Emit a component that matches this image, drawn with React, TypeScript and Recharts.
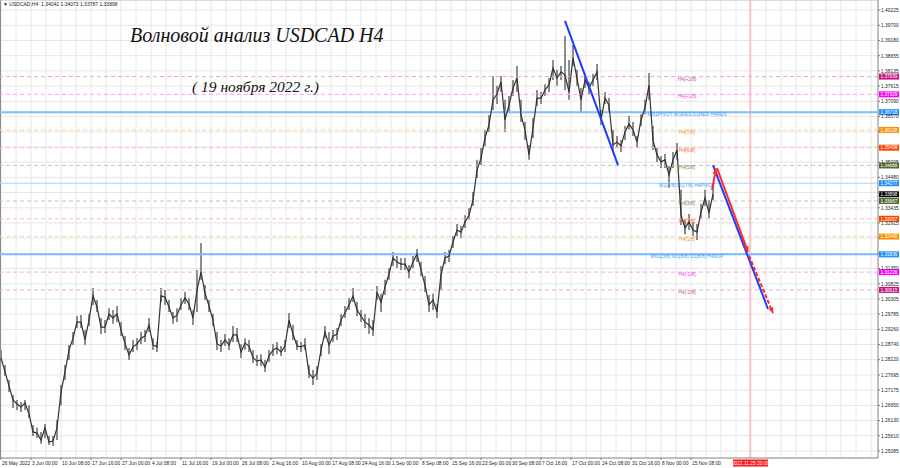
import React from "react";
import { ComposedChart, Line, Bar, XAxis, YAxis, CartesianGrid, ReferenceLine } from "recharts";

// H4 bars, sampled every STEP bars (1 bar ~ 1px on the original screen)
const STEP = 4;
const FIRST_BAR = 1;

const closes = [
  1.2828, 1.2780, 1.2732, 1.2684, 1.2670, 1.2660, 1.2673, 1.2636, 1.2574, 1.2570,
  1.2546, 1.2588, 1.2539, 1.2543, 1.2588, 1.2711, 1.2780, 1.2855, 1.2896, 1.2951,
  1.2951, 1.2890, 1.2958, 1.3041, 1.3003, 1.2934, 1.2934, 1.2979, 1.2965, 1.2979,
  1.2924, 1.2879, 1.2838, 1.2866, 1.2876, 1.2896, 1.2903, 1.2941, 1.2872, 1.2866,
  1.3041, 1.3037, 1.3003, 1.2965, 1.2975, 1.3010, 1.3034, 1.3013, 1.2965, 1.3061,
  1.3123, 1.3051, 1.3006, 1.2958, 1.2876, 1.2869, 1.2890, 1.2872, 1.2907, 1.2907,
  1.2848, 1.2879, 1.2869, 1.2828, 1.2817, 1.2821, 1.2797, 1.2835, 1.2855, 1.2862,
  1.2848, 1.2869, 1.2958, 1.2910, 1.2869, 1.2866, 1.2872, 1.2776, 1.2759, 1.2776,
  1.2855, 1.2917, 1.2872, 1.2903, 1.2910, 1.2958, 1.2982, 1.3010, 1.3041, 1.2993,
  1.2972, 1.2951, 1.2941, 1.2924, 1.3054, 1.3020, 1.3071, 1.3116, 1.3171, 1.3157,
  1.3150, 1.3150, 1.3123, 1.3157, 1.3185, 1.3130, 1.3078, 1.3010, 1.3027, 1.2986,
  1.3113, 1.3171, 1.3178, 1.3226, 1.3267, 1.3260, 1.3295, 1.3318, 1.3370, 1.3473,
  1.3514, 1.3583, 1.3628, 1.3714, 1.3734, 1.3776, 1.3645, 1.3696, 1.3755, 1.3789,
  1.3662, 1.3611, 1.3525, 1.3617, 1.3720, 1.3720, 1.3748, 1.3765, 1.3823, 1.3789,
  1.3810, 1.3799, 1.3741, 1.3858, 1.3789, 1.3714, 1.3782, 1.3755, 1.3782, 1.3810,
  1.3645, 1.3720, 1.3696, 1.3559, 1.3569, 1.3556, 1.3604, 1.3631, 1.3611, 1.3569,
  1.3645, 1.3686, 1.3765, 1.3576, 1.3525, 1.3501, 1.3508, 1.3456, 1.3508, 1.3542,
  1.3319, 1.3274, 1.3295, 1.3267, 1.3260, 1.3329, 1.3377, 1.3326, 1.3390,
];

const highs = [
  1.2855, 1.2804, 1.2752, 1.2701, 1.2684, 1.2677, 1.2684, 1.2666, 1.2598, 1.2588,
  1.2574, 1.2601, 1.2560, 1.2560, 1.2615, 1.2735, 1.2804, 1.2872, 1.2917, 1.2972,
  1.2975, 1.2924, 1.2979, 1.3068, 1.3027, 1.2965, 1.2958, 1.2999, 1.2993, 1.3006,
  1.2951, 1.2903, 1.2862, 1.2890, 1.2896, 1.2917, 1.2924, 1.2965, 1.2896, 1.2883,
  1.3068, 1.3061, 1.3027, 1.2986, 1.2999, 1.3034, 1.3054, 1.3034, 1.2993, 1.3130,
  1.3223, 1.3078, 1.3027, 1.2979, 1.2917, 1.2890, 1.2910, 1.2896, 1.2938, 1.2931,
  1.2876, 1.2896, 1.2890, 1.2855, 1.2838, 1.2841, 1.2821, 1.2855, 1.2876, 1.2883,
  1.2869, 1.2890, 1.2982, 1.2941, 1.2890, 1.2883, 1.2896, 1.2804, 1.2787, 1.2800,
  1.2876, 1.2938, 1.2917, 1.2924, 1.2931, 1.2979, 1.3006, 1.3034, 1.3068, 1.3020,
  1.2993, 1.2979, 1.2965, 1.2958, 1.3075, 1.3048, 1.3096, 1.3137, 1.3192, 1.3178,
  1.3171, 1.3171, 1.3147, 1.3178, 1.3202, 1.3157, 1.3109, 1.3044, 1.3048, 1.3013,
  1.3144, 1.3192, 1.3199, 1.3247, 1.3288, 1.3281, 1.3318, 1.3343, 1.3398, 1.3508,
  1.3549, 1.3611, 1.3662, 1.3796, 1.3762, 1.3796, 1.3714, 1.3727, 1.3782, 1.3830,
  1.3714, 1.3638, 1.3559, 1.3652, 1.3748, 1.3741, 1.3768, 1.3789, 1.3851, 1.3817,
  1.3830, 1.3933, 1.3851, 1.3902, 1.3817, 1.3755, 1.3803, 1.3775, 1.3803, 1.3837,
  1.3679, 1.3741, 1.3720, 1.3611, 1.3590, 1.3576, 1.3624, 1.3659, 1.3638, 1.3590,
  1.3665, 1.3714, 1.3806, 1.3624, 1.3549, 1.3521, 1.3528, 1.3487, 1.3535, 1.3566,
  1.3405, 1.3302, 1.3322, 1.3295, 1.3288, 1.3357, 1.3405, 1.3370, 1.3425,
];

const lows = [
  1.2814, 1.2766, 1.2711, 1.2656, 1.2649, 1.2642, 1.2649, 1.2622, 1.2560, 1.2553,
  1.2533, 1.2553, 1.2529, 1.2526, 1.2546, 1.2666, 1.2752, 1.2821, 1.2872, 1.2931,
  1.2931, 1.2872, 1.2938, 1.3010, 1.2986, 1.2910, 1.2914, 1.2958, 1.2945, 1.2951,
  1.2903, 1.2855, 1.2821, 1.2848, 1.2855, 1.2876, 1.2883, 1.2917, 1.2855, 1.2848,
  1.3020, 1.3010, 1.2986, 1.2945, 1.2951, 1.2993, 1.3013, 1.2993, 1.2941, 1.2986,
  1.3096, 1.3027, 1.2986, 1.2938, 1.2855, 1.2848, 1.2869, 1.2855, 1.2883, 1.2883,
  1.2828, 1.2855, 1.2848, 1.2811, 1.2800, 1.2800, 1.2780, 1.2814, 1.2835, 1.2841,
  1.2835, 1.2848, 1.2931, 1.2890, 1.2855, 1.2848, 1.2855, 1.2759, 1.2735, 1.2752,
  1.2835, 1.2896, 1.2841, 1.2883, 1.2890, 1.2938, 1.2965, 1.2993, 1.3020, 1.2972,
  1.2951, 1.2931, 1.2910, 1.2903, 1.3027, 1.2986, 1.3044, 1.3096, 1.3144, 1.3137,
  1.3130, 1.3130, 1.3102, 1.3137, 1.3157, 1.3109, 1.3054, 1.2986, 1.2993, 1.2965,
  1.3061, 1.3150, 1.3157, 1.3205, 1.3247, 1.3240, 1.3274, 1.3302, 1.3350, 1.3446,
  1.3490, 1.3556, 1.3604, 1.3679, 1.3700, 1.3741, 1.3604, 1.3672, 1.3727, 1.3741,
  1.3638, 1.3576, 1.3508, 1.3583, 1.3693, 1.3700, 1.3727, 1.3741, 1.3782, 1.3762,
  1.3782, 1.3748, 1.3714, 1.3830, 1.3762, 1.3672, 1.3755, 1.3734, 1.3762, 1.3782,
  1.3628, 1.3700, 1.3672, 1.3535, 1.3549, 1.3535, 1.3576, 1.3611, 1.3590, 1.3549,
  1.3624, 1.3665, 1.3714, 1.3542, 1.3501, 1.3480, 1.3480, 1.3412, 1.3480, 1.3508,
  1.3284, 1.3253, 1.3267, 1.3247, 1.3233, 1.3308, 1.3350, 1.3308, 1.3370,
];

const yTicks = [
  1.40225, 1.397, 1.3918, 1.38655, 1.38135, 1.37615, 1.3709, 1.3657, 1.36045, 1.35525,
  1.35005, 1.3448, 1.3396, 1.33435, 1.32915, 1.32395, 1.3187, 1.3135, 1.30825, 1.30305,
  1.29785, 1.2926, 1.2874, 1.2822, 1.27695, 1.27175, 1.2665, 1.2613, 1.2561, 1.25085,
];

const xLabels = [
  "26 May 2022", "3 Jun 00:00", "10 Jun 08:00", "17 Jun 16:00", "27 Jun 00:00", "4 Jul 08:00",
  "11 Jul 16:00", "19 Jul 00:00", "26 Jul 08:00", "2 Aug 16:00", "10 Aug 00:00", "17 Aug 08:00",
  "24 Aug 16:00", "1 Sep 00:00", "8 Sep 08:00", "15 Sep 16:00", "23 Sep 00:00", "30 Sep 08:00",
  "7 Oct 16:00", "17 Oct 00:00", "24 Oct 08:00", "31 Oct 16:00", "8 Nov 00:00", "15 Nov 08:00",
];
const xLabelBars = [
  1, 31, 61, 91, 121, 151, 181, 211, 241, 271, 301, 331,
  361, 391, 421, 451, 481, 511, 541, 571, 601, 631, 661, 691,
];

// Murrey math levels
const levelPrices = [
  1.37939, 1.37329, 1.36718, 1.36108, 1.35498, 1.34888, 1.34277,
  1.33667, 1.33057, 1.32446, 1.31836, 1.31226, 1.30615,
];
const levelTags = [
  "H4[+2/8]", "H4[+1/8]", "MN1PIVOT W1RES D1RES H4RES", "H4[7/8]", "H4[6/8]", "H4[5/8]",
  "W1[7/8] D1[7/8] H4PIVOT", "H4[3/8]", "H4[2/8]", "H4[1/8]", "MN1[3/8] W1[8/8] D1[8/8] H4SUP",
  "H4[-1/8]", "H4[-2/8]",
];
const levelKinds = [
  "violet", "magenta", "pivotMain", "orange", "orangered", "olive", "pivot",
  "olive", "orangered", "orange", "pivotMain", "magenta", "violet",
];

const lastPrice = 1.33898;
const ohlcText = "USDCAD,H4  1.34042 1.34073 1.33787 1.33898";
const futureBar = 750;
const futureLabel = "2022.11.25 20:00";

// wave drawings (bar, price)
const blueLine1 = [{ x: 565, y: 1.3985 }, { x: 618, y: 1.349 }];
const blueLine2 = [{ x: 713, y: 1.349 }, { x: 768, y: 1.2996 }];
const redUp = [{ x: 712, y: 1.3405 }, { x: 716, y: 1.3478 }];
const redDown = [{ x: 717, y: 1.348 }, { x: 748, y: 1.3192 }];
const redDashed = [{ x: 749, y: 1.3179 }, { x: 773, y: 1.2982 }];

const KIND_STYLE: Record<string, { line: string; box: string; text: string; width: number; dash?: string }> = {
  violet: { line: "#eaa8d4", box: "#c71585", text: "#c5579f", width: 1, dash: "4 3" },
  magenta: { line: "#ff9cff", box: "#ff00ff", text: "#ea4cea", width: 1, dash: "4 3" },
  pivotMain: { line: "#7dbcff", box: "#1e90ff", text: "#3d9bff", width: 2 },
  pivot: { line: "#a9d2ff", box: "#1e90ff", text: "#3d9bff", width: 1 },
  orange: { line: "#ffd2a6", box: "#ff8c00", text: "#f0a040", width: 1, dash: "4 3" },
  orangered: { line: "#ffbea6", box: "#ff4500", text: "#f0683a", width: 1, dash: "4 3" },
  olive: { line: "#c7c7ab", box: "#556b2f", text: "#7b8a52", width: 1, dash: "4 3" },
};

const X_DOMAIN: [number, number] = [0, 878];
const Y_DOMAIN: [number, number] = [1.24845, 1.40568];
const TAG_BAR = 687;
const SMALL = "'Liberation Sans', Arial, sans-serif";

const bars = closes.map((c, i) => ({ bar: FIRST_BAR + i * STEP, close: c, range: [lows[i], highs[i]] }));
const gridBars = Array.from({ length: 59 }, (_, i) => 1 + i * 15);
const boxPrices = [...levelPrices, lastPrice];

function XTick(props: any) {
  const { x, y, payload } = props;
  const idx = xLabelBars.indexOf(payload.value);
  if (idx < 0) return <g />;
  return (
    <g>
      <line x1={x} x2={x} y1={y} y2={y + 2} stroke="#777" />
      <text x={x + 1} y={y + 7} fontSize={4.9} fill="#222" fontFamily={SMALL}>
        {xLabels[idx]}
      </text>
    </g>
  );
}

// tick texts that sit right under a price box are hidden by it
function YTick(props: any) {
  const { x, y, payload } = props;
  const v = Number(payload.value);
  if (boxPrices.some((b) => Math.abs(b - v) < 0.0007)) return <g />;
  return (
    <text x={x} y={y + 1.8} fontSize={4.9} fill="#222" fontFamily={SMALL}>
      {v.toFixed(5)}
    </text>
  );
}

const levelLabel = (i: number) => (p: any) => {
  const { x, y, width } = p.viewBox;
  const st = KIND_STYLE[levelKinds[i]];
  const tx = x + ((TAG_BAR - X_DOMAIN[0]) / (X_DOMAIN[1] - X_DOMAIN[0])) * width;
  return (
    <g fontFamily={SMALL}>
      <text x={tx} y={y + 4} textAnchor="middle" fontSize={4.9} fill={st.text}>
        {levelTags[i]}
      </text>
      <rect x={x + width + 1} y={y - 3} width={20} height={6} fill={st.box} />
      <text x={x + width + 2.5} y={y + 1.8} fontSize={4.7} fill="#fff">
        {levelPrices[i].toFixed(5)}
      </text>
    </g>
  );
};

const priceLabel = (p: any) => {
  const { x, y, width } = p.viewBox;
  return (
    <g fontFamily={SMALL}>
      <rect x={x + width + 1} y={y - 3} width={20} height={6} fill="#000" />
      <text x={x + width + 2.5} y={y + 1.8} fontSize={4.7} fill="#fff">
        {lastPrice.toFixed(5)}
      </text>
    </g>
  );
};

const futureTag = (p: any) => {
  const { x, y, height } = p.viewBox;
  return (
    <g fontFamily={SMALL}>
      <rect x={x - 17} y={y + height + 1.5} width={35} height={7} fill="#ff1a1a" />
      <text x={x + 0.5} y={y + height + 6.8} textAnchor="middle" fontSize={4.9} fill="#fff">
        {futureLabel}
      </text>
    </g>
  );
};

const arrowShape = (color: string, head: boolean, dashed = false) => (p: any) => {
  const { x1, y1, x2, y2 } = p;
  if ([x1, y1, x2, y2].some((v) => typeof v !== "number" || isNaN(v))) return <g />;
  const ang = Math.atan2(y2 - y1, x2 - x1);
  const len = 6;
  const spread = 0.45;
  const ax = x2 - len * Math.cos(ang - spread);
  const ay = y2 - len * Math.sin(ang - spread);
  const bx = x2 - len * Math.cos(ang + spread);
  const by = y2 - len * Math.sin(ang + spread);
  return (
    <g>
      <line x1={x1} y1={y1} x2={x2} y2={y2} stroke={color} strokeWidth={2} strokeDasharray={dashed ? "4 2" : undefined} />
      {head && <polygon points={`${x2},${y2} ${ax},${ay} ${bx},${by}`} fill={color} />}
    </g>
  );
};

export default function App() {
  return (
    <div style={{ position: "absolute", left: 0, top: 0, width: 900, height: 468, background: "#fff", overflow: "hidden" }}>
      <ComposedChart width={900} height={468} data={bars} margin={{ top: 0, right: 0, bottom: 0, left: 0 }}>
        <CartesianGrid stroke="#e6e6e6" strokeWidth={1} />
        <XAxis
          dataKey="bar"
          type="number"
          domain={X_DOMAIN}
          ticks={gridBars}
          interval={0}
          height={10}
          tickSize={0}
          tickMargin={0}
          tick={<XTick />}
          axisLine={{ stroke: "#8c8c8c" }}
          allowDataOverflow
        />
        <YAxis
          orientation="right"
          type="number"
          domain={Y_DOMAIN}
          ticks={yTicks}
          interval={0}
          width={22}
          tickSize={2}
          tickMargin={1}
          tick={<YTick />}
          tickLine={{ stroke: "#777" }}
          axisLine={{ stroke: "#8c8c8c" }}
          allowDataOverflow
        />
        <ReferenceLine x={0} stroke="#8c8c8c" strokeWidth={2} />
        <ReferenceLine y={Y_DOMAIN[1]} stroke="#c8c8c8" />
        <ReferenceLine x={futureBar} stroke="#ff9a9a" label={futureTag} />
        {levelPrices.map((v, i) => {
          const st = KIND_STYLE[levelKinds[i]];
          return (
            <ReferenceLine
              key={levelTags[i]}
              y={v}
              stroke={st.line}
              strokeWidth={st.width}
              strokeDasharray={st.dash}
              label={levelLabel(i)}
            />
          );
        })}
        <ReferenceLine y={lastPrice} stroke="transparent" label={priceLabel} />
        <Bar dataKey="range" barSize={2} fill="#8d8d8d" isAnimationActive={false} />
        <Line dataKey="close" stroke="#333" strokeWidth={1.2} dot={false} activeDot={false} isAnimationActive={false} />
        <ReferenceLine segment={blueLine1} ifOverflow="visible" shape={arrowShape("#1f3bff", false)} />
        <ReferenceLine segment={blueLine2} ifOverflow="visible" shape={arrowShape("#1f3bff", false)} />
        <ReferenceLine segment={redUp} ifOverflow="visible" shape={arrowShape("#ff2a2a", true)} />
        <ReferenceLine segment={redDown} ifOverflow="visible" shape={arrowShape("#ff2a2a", true)} />
        <ReferenceLine segment={redDashed} ifOverflow="visible" shape={arrowShape("#ff2a2a", true, true)} />
      </ComposedChart>
      <div style={{ position: "absolute", left: 3, top: 1, fontFamily: SMALL, fontSize: 5, color: "#222", whiteSpace: "pre" }}>
        {"\u25BC " + ohlcText}
      </div>
      <div
        style={{
          position: "absolute",
          left: 130,
          top: 24,
          fontFamily: "'Liberation Serif', serif",
          fontStyle: "italic",
          fontSize: 20,
          color: "#111",
          whiteSpace: "nowrap",
        }}
      >
        Волновой анализ USDCAD H4
      </div>
      <div
        style={{
          position: "absolute",
          left: 192,
          top: 78,
          fontFamily: "'Liberation Serif', serif",
          fontStyle: "italic",
          fontSize: 15.5,
          color: "#111",
          whiteSpace: "nowrap",
        }}
      >
        ( 19 ноября 2022 г.)
      </div>
    </div>
  );
}
